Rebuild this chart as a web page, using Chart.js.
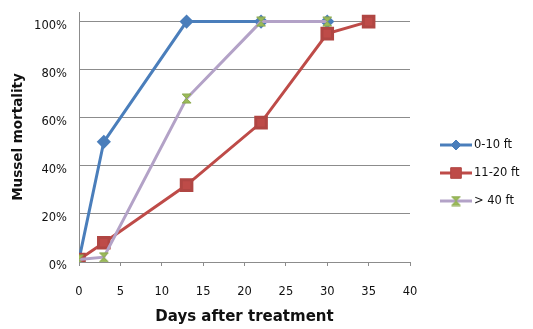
<!DOCTYPE html>
<html>
<head>
<meta charset="utf-8">
<script src="https://cdn.jsdelivr.net/npm/chart.js@4"></script>
<style>
  html, body { margin: 0; padding: 0; background: #fff; }
  #wrap { width: 533px; height: 329px; position: relative; }
</style>
</head>
<body>
<div id="wrap"><canvas id="c" width="533" height="329"></canvas></div>
<script>
// ---- data ----
const days = [0, 3, 13, 22, 30, 35];
const seriesNames = ['0-10 ft', '11-20 ft', '> 40 ft'];
const shallow = [1, 50, 100, 100, 100, null];   // 0-10 ft
const middle  = [1, 8, 32, 58, 95, 100];         // 11-20 ft
const deep    = [1, 2, 68, 100, 100, null];      // > 40 ft
const yTicks = [0, 20, 40, 60, 80, 100];
const xTicks = [0, 5, 10, 15, 20, 25, 30, 35, 40];

function pts(vals) {
  const out = [];
  vals.forEach((v, i) => { if (v !== null) out.push({ x: days[i], y: v }); });
  return out;
}

// hourglass marker
function hourglass(size, fill, stroke) {
  const c = document.createElement('canvas');
  c.width = size; c.height = size;
  const g = c.getContext('2d');
  const p = 1, s = size - 1;
  g.beginPath();
  g.moveTo(p, p); g.lineTo(s, p); g.lineTo(p, s); g.lineTo(s, s); g.closePath();
  g.fillStyle = fill; g.fill();
  g.strokeStyle = stroke; g.lineWidth = 1; g.stroke();
  return c;
}
const hg = hourglass(11, '#9BBB59', '#8aa84c');

const colors = ['#4A7EBB', '#BE4B48', '#B3A2C7'];
const pointFill = ['#4A7EBB', '#BE4B48', '#9BBB59'];

const legendPlugin = {
  id: 'customLegend',
  afterDraw(chart) {
    const ctx = chart.ctx;
    const rows = [145, 173, 201];
    ctx.save();
    chart.data.datasets.forEach((ds, i) => {
      const y = rows[i];
      ctx.strokeStyle = ds.borderColor;
      ctx.lineWidth = 3;
      ctx.beginPath(); ctx.moveTo(440, y); ctx.lineTo(472, y); ctx.stroke();
      if (i === 2) {
        ctx.drawImage(hg, 456 - 5.5, y - 5.5);
      } else {
        ctx.fillStyle = ds.pointBackgroundColor;
        ctx.strokeStyle = ds.pointBorderColor;
        ctx.lineWidth = 1;
        Chart.helpers.drawPoint(ctx, { pointStyle: ds.pointStyle, radius: ds.pointRadius, borderWidth: 1 }, 456, y);
      }
      ctx.fillStyle = '#111';
      ctx.font = '11.5px "DejaVu Sans"';
      ctx.textBaseline = 'middle';
      ctx.textAlign = 'left';
      ctx.fillText(ds.label, 474, y);
    });
    ctx.restore();
  }
};

new Chart(document.getElementById('c'), {
  type: 'line',
  data: {
    datasets: [
      { label: seriesNames[0], data: pts(shallow), borderColor: colors[0], backgroundColor: colors[0],
        pointStyle: 'rectRot', pointRadius: 5, pointBackgroundColor: pointFill[0], pointBorderColor: pointFill[0],
        borderWidth: 3, order: 2 },
      { label: seriesNames[1], data: pts(middle), borderColor: colors[1], backgroundColor: colors[1],
        pointStyle: 'rect', pointRadius: 7.5, pointBackgroundColor: pointFill[1], pointBorderColor: '#b04643',
        borderWidth: 3, order: 1 },
      { label: seriesNames[2], data: pts(deep), borderColor: colors[2], backgroundColor: colors[2],
        pointStyle: hg, pointRadius: 5.5, pointBackgroundColor: pointFill[2], pointBorderColor: pointFill[2],
        borderWidth: 3, order: 0 }
    ]
  },
  options: {
    responsive: false,
    animation: false,
    events: [],
    layout: { padding: { left: 0, top: 12, right: 123, bottom: 0 } },
    plugins: { legend: { display: false }, tooltip: { enabled: false } },
    elements: { line: { tension: 0 } },
    scales: {
      x: {
        type: 'linear', min: 0, max: 40,
        afterBuildTicks: s => { s.ticks = xTicks.map(v => ({ value: v })); },
        afterFit: s => { s.height = 67; s.paddingLeft = 0; s.paddingRight = 0; },
        grid: { drawOnChartArea: false, drawTicks: true, tickLength: 4, color: '#8c8c8c' },
        border: { color: '#8c8c8c', width: 1 },
        ticks: { padding: 19, color: '#111', font: { family: 'DejaVu Sans', size: 11.5 }, maxRotation: 0 },
        title: { display: true, text: 'Days after treatment', color: '#111',
          font: { family: 'DejaVu Sans', size: 15, weight: 'bold' }, padding: { top: 0, bottom: 3 } }
      },
      y: {
        type: 'linear', min: 0, max: 104,
        afterBuildTicks: s => { s.ticks = yTicks.map(v => ({ value: v })); },
        afterFit: s => { s.width = 79; s.paddingTop = 0; s.paddingBottom = 0; },
        grid: { drawTicks: false, color: '#8c8c8c', lineWidth: 1 },
        border: { color: '#8c8c8c', width: 1 },
        ticks: { padding: 12, labelOffset: 4, color: '#111', font: { family: 'DejaVu Sans', size: 11.5 },
          callback: v => v + '%' },
        title: { display: true, text: 'Mussel mortality', color: '#111',
          font: { family: 'DejaVu Sans', size: 13.5, weight: 'bold' }, padding: { top: 10, bottom: 0 } }
      }
    }
  },
  plugins: [legendPlugin]
});
</script>
</body>
</html>
